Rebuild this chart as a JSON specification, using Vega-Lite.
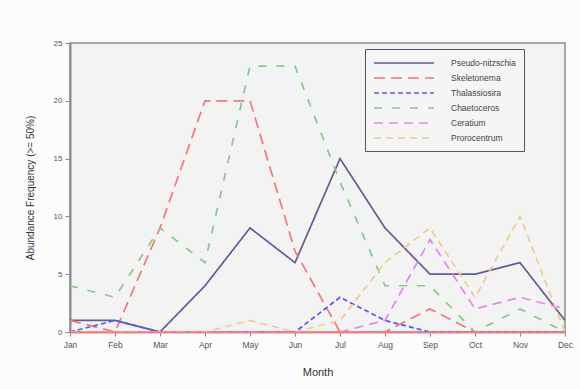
{
  "$schema": "https://vega.github.io/schema/vega-lite/v6.json",
  "width": 495,
  "height": 289,
  "autosize": {"type": "none"},
  "padding": {"left": 70, "top": 43, "right": 15, "bottom": 57},
  "background": "#fcfcfc",
  "config": {
    "font": "Liberation Sans",
    "view": {"fill": "#f3f3f3", "stroke": "#8c8c8c", "strokeWidth": 1.5}
  },
  "datasets": {
    "d": [
      {"month": "Jan", "series": "Pseudo-nitzschia", "value": 1},
      {"month": "Feb", "series": "Pseudo-nitzschia", "value": 1},
      {"month": "Mar", "series": "Pseudo-nitzschia", "value": 0},
      {"month": "Apr", "series": "Pseudo-nitzschia", "value": 4},
      {"month": "May", "series": "Pseudo-nitzschia", "value": 9},
      {"month": "Jun", "series": "Pseudo-nitzschia", "value": 6},
      {"month": "Jul", "series": "Pseudo-nitzschia", "value": 15},
      {"month": "Aug", "series": "Pseudo-nitzschia", "value": 9},
      {"month": "Sep", "series": "Pseudo-nitzschia", "value": 5},
      {"month": "Oct", "series": "Pseudo-nitzschia", "value": 5},
      {"month": "Nov", "series": "Pseudo-nitzschia", "value": 6},
      {"month": "Dec", "series": "Pseudo-nitzschia", "value": 1},
      {"month": "Jan", "series": "Skeletonema", "value": 1},
      {"month": "Feb", "series": "Skeletonema", "value": 0},
      {"month": "Mar", "series": "Skeletonema", "value": 9},
      {"month": "Apr", "series": "Skeletonema", "value": 20},
      {"month": "May", "series": "Skeletonema", "value": 20},
      {"month": "Jun", "series": "Skeletonema", "value": 7},
      {"month": "Jul", "series": "Skeletonema", "value": 0},
      {"month": "Aug", "series": "Skeletonema", "value": 0},
      {"month": "Sep", "series": "Skeletonema", "value": 2},
      {"month": "Oct", "series": "Skeletonema", "value": 0},
      {"month": "Nov", "series": "Skeletonema", "value": 0},
      {"month": "Dec", "series": "Skeletonema", "value": 0},
      {"month": "Jan", "series": "Thalassiosira", "value": 0},
      {"month": "Feb", "series": "Thalassiosira", "value": 1},
      {"month": "Mar", "series": "Thalassiosira", "value": 0},
      {"month": "Apr", "series": "Thalassiosira", "value": 0},
      {"month": "May", "series": "Thalassiosira", "value": 0},
      {"month": "Jun", "series": "Thalassiosira", "value": 0},
      {"month": "Jul", "series": "Thalassiosira", "value": 3},
      {"month": "Aug", "series": "Thalassiosira", "value": 1},
      {"month": "Sep", "series": "Thalassiosira", "value": 0},
      {"month": "Oct", "series": "Thalassiosira", "value": 0},
      {"month": "Nov", "series": "Thalassiosira", "value": 0},
      {"month": "Dec", "series": "Thalassiosira", "value": 0},
      {"month": "Jan", "series": "Chaetoceros", "value": 4},
      {"month": "Feb", "series": "Chaetoceros", "value": 3},
      {"month": "Mar", "series": "Chaetoceros", "value": 9},
      {"month": "Apr", "series": "Chaetoceros", "value": 6},
      {"month": "May", "series": "Chaetoceros", "value": 23},
      {"month": "Jun", "series": "Chaetoceros", "value": 23},
      {"month": "Jul", "series": "Chaetoceros", "value": 13},
      {"month": "Aug", "series": "Chaetoceros", "value": 4},
      {"month": "Sep", "series": "Chaetoceros", "value": 4},
      {"month": "Oct", "series": "Chaetoceros", "value": 0},
      {"month": "Nov", "series": "Chaetoceros", "value": 2},
      {"month": "Dec", "series": "Chaetoceros", "value": 0},
      {"month": "Jan", "series": "Ceratium", "value": 0},
      {"month": "Feb", "series": "Ceratium", "value": 0},
      {"month": "Mar", "series": "Ceratium", "value": 0},
      {"month": "Apr", "series": "Ceratium", "value": 0},
      {"month": "May", "series": "Ceratium", "value": 0},
      {"month": "Jun", "series": "Ceratium", "value": 0},
      {"month": "Jul", "series": "Ceratium", "value": 0},
      {"month": "Aug", "series": "Ceratium", "value": 1},
      {"month": "Sep", "series": "Ceratium", "value": 8},
      {"month": "Oct", "series": "Ceratium", "value": 2},
      {"month": "Nov", "series": "Ceratium", "value": 3},
      {"month": "Dec", "series": "Ceratium", "value": 2},
      {"month": "Jan", "series": "Prorocentrum", "value": 0},
      {"month": "Feb", "series": "Prorocentrum", "value": 0},
      {"month": "Mar", "series": "Prorocentrum", "value": 0},
      {"month": "Apr", "series": "Prorocentrum", "value": 0},
      {"month": "May", "series": "Prorocentrum", "value": 1},
      {"month": "Jun", "series": "Prorocentrum", "value": 0},
      {"month": "Jul", "series": "Prorocentrum", "value": 1},
      {"month": "Aug", "series": "Prorocentrum", "value": 6},
      {"month": "Sep", "series": "Prorocentrum", "value": 9},
      {"month": "Oct", "series": "Prorocentrum", "value": 3},
      {"month": "Nov", "series": "Prorocentrum", "value": 10},
      {"month": "Dec", "series": "Prorocentrum", "value": 0}
    ]
  },
  "data": {"name": "d"},
  "mark": {"type": "line", "strokeWidth": 1.7, "clip": true},
  "encoding": {
    "x": {
      "field": "month",
      "type": "ordinal",
      "sort": ["Jan", "Feb", "Mar", "Apr", "May", "Jun", "Jul", "Aug", "Sep", "Oct", "Nov", "Dec"],
      "scale": {"type": "point", "padding": 0},
      "axis": {
        "title": "Month",
        "titleFontSize": 11,
        "titleFontWeight": "normal",
        "titleColor": "#333",
        "titlePadding": 18,
        "labelAngle": 0,
        "labelFontSize": 8.5,
        "labelColor": "#555",
        "labelPadding": 4,
        "domainColor": "#f08080",
        "domainWidth": 2,
        "tickColor": "#888",
        "tickSize": 4,
        "zindex": 1
      }
    },
    "y": {
      "field": "value",
      "type": "quantitative",
      "scale": {"domain": [0, 25], "nice": false},
      "axis": {
        "title": "Abundance Frequency (>= 50%)",
        "titleFontSize": 10,
        "titleFontWeight": "normal",
        "titleColor": "#333",
        "titlePadding": 18,
        "values": [0, 5, 10, 15, 20, 25],
        "labelFontSize": 8,
        "labelColor": "#555",
        "labelPadding": 3,
        "grid": false,
        "domainColor": "#8c8c8c",
        "domainWidth": 2,
        "tickColor": "#8c8c8c",
        "tickSize": 5
      }
    },
    "color": {
      "field": "series",
      "type": "nominal",
      "scale": {
        "domain": ["Pseudo-nitzschia", "Skeletonema", "Thalassiosira", "Chaetoceros", "Ceratium", "Prorocentrum"],
        "range": ["#635c92", "#f07878", "#5a5ae6", "#86c886", "#e286ea", "#f2c891"]
      },
      "legend": {
        "title": null,
        "orient": "none",
        "legendX": 295,
        "legendY": 6,
        "padding": 8,
        "strokeColor": "#555",
        "fillColor": "#f5f5f5",
        "symbolType": "M-1,0H11",
        "symbolSize": 100,
        "symbolStrokeWidth": 1.6,
        "labelOffset": 66,
        "labelFontSize": 8.5,
        "labelColor": "#444",
        "rowPadding": 4,
        "offset": 0
      }
    },
    "strokeDash": {
      "field": "series",
      "type": "nominal",
      "scale": {
        "domain": ["Pseudo-nitzschia", "Skeletonema", "Thalassiosira", "Chaetoceros", "Ceratium", "Prorocentrum"],
        "range": [[1, 0], [11, 6], [5, 3], [8, 10], [9, 6], [7, 5]]
      },
      "legend": null
    }
  }
}
